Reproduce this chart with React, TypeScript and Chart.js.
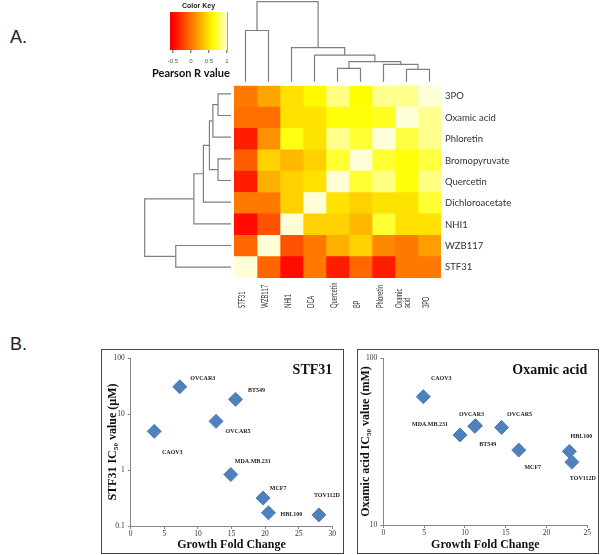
import React, { useEffect, useRef } from 'react';
import { Chart, registerables } from 'chart.js';

Chart.register(...registerables);

// ---------------- Heatmap data (Pearson R) ----------------
const rowLabels = ['3PO', 'Oxamic acid', 'Phloretin', 'Bromopyruvate', 'Quercetin', 'Dichloroacetate', 'NHI1', 'WZB117', 'STF31'];
const colLabels: (string | string[])[] = ['STF31', 'WZB117', 'NHI1', 'DCA', 'Quercetin', 'BP', 'Phloretin', ['Oxamic', 'acid'], '3PO'];

const corr3PO = [0.03, 0.23, 0.49, 0.6, 0.85, 0.62, 0.87, 0.87, 1];
const corrOxamic = [-0.01, -0.01, 0.5, 0.5, 0.64, 0.64, 0.68, 1, 0.87];
const corrPhloretin = [-0.37, 0.14, 0.66, 0.5, 0.87, 0.72, 1, 0.74, 0.87];
const corrBromopyruvate = [-0.09, 0.42, 0.31, 0.42, 0.71, 1, 0.71, 0.64, 0.74];
const corrQuercetin = [-0.37, 0.27, 0.42, 0.5, 1, 0.71, 0.85, 0.64, 0.85];
const corrDichloroacetate = [0.03, 0.03, 0.42, 1, 0.5, 0.42, 0.5, 0.5, 0.71];
const corrNHI1 = [-0.45, -0.14, 1, 0.42, 0.42, 0.31, 0.71, 0.49, 0.49];
const corrWZB117 = [-0.05, 1, -0.14, 0.03, 0.27, 0.42, 0.1, 0.03, 0.19];
const corrSTF31 = [1, -0.05, -0.45, 0.03, -0.37, -0.05, -0.37, 0.03, 0.03];
const corrRows = [corr3PO, corrOxamic, corrPhloretin, corrBromopyruvate, corrQuercetin, corrDichloroacetate, corrNHI1, corrWZB117, corrSTF31];

// ---------------- Dendrograms (merge a, merge b, height) ----------------
const rowMergeA = [0, 9, 3, 10, 12, 13, 7, 14];
const rowMergeB = [1, 2, 4, 11, 5, 6, 8, 15];
const rowMergeH = [0.15, 0.21, 0.15, 0.25, 0.32, 0.43, 0.64, 1.0];

const colMergeA = [0, 7, 4, 6, 11, 3, 2, 9];
const colMergeB = [1, 8, 5, 10, 12, 13, 14, 15];
const colMergeH = [0.64, 0.155, 0.167, 0.217, 0.25, 0.333, 0.425, 1.0];

// ---------------- Colour key ----------------
const keyMin = -0.58;
const keyMax = 1;
const keyTicks = [-0.5, 0, 0.5, 1];

// ---------------- Scatter: STF31 ----------------
const stfCells = ['OVCAR3', 'BT549', 'OVCAR5', 'CAOV3', 'MDA.MB.231', 'MCF7', 'HBL100', 'TOV112D'];
const stfFold = [7.3, 15.6, 12.7, 3.5, 14.9, 19.7, 20.5, 28.0];
const stfIC50 = [30.6, 18.3, 7.4, 4.9, 0.83, 0.315, 0.172, 0.158];
const stfTicksY = [0.1, 1, 10, 100];

// ---------------- Scatter: Oxamic acid ----------------
const oxaCells = ['CAOV3', 'MDA.MB.231', 'OVCAR3', 'OVCAR5', 'BT549', 'MCF7', 'HBL100', 'TOV112D'];
const oxaFold = [4.9, 9.4, 11.3, 14.5, 11.2, 16.6, 22.8, 23.1];
const oxaIC50 = [58.7, 34.6, 39.3, 38.4, 39.0, 28.1, 27.6, 23.8];
const oxaTicksY = [10, 100];

// label placement offsets (px, layout only)
const stfLabelOffsets = [[23, -8], [21, -9], [22, 10], [18, 21], [22, -13], [15, -10], [23, 2], [8, -19]];
const oxaLabelOffsets = [[18, -18], [-30, -11], [-4, -11], [18, -13], [13, 18], [14, 17], [12, -15], [11, 16]];

// ---------------- helpers ----------------
function heat(v: number): string {
  const t = Math.max(0, Math.min(1, (v + 0.5) / 1.5));
  if (t <= 0.75) {
    const g = Math.round((255 * t) / 0.75);
    return `rgb(255,${g},0)`;
  }
  const b = Math.round((215 * (t - 0.75)) / 0.25);
  return `rgb(255,255,${b})`;
}

function dendroSegments(a: number[], b: number[], h: number[], n: number) {
  const pos: number[] = [];
  const ht: number[] = [];
  for (let i = 0; i < n; i++) {
    pos.push(i + 0.5);
    ht.push(0);
  }
  const segs: number[][][] = [];
  a.forEach((ai, k) => {
    const bi = b[k];
    segs.push([
      [pos[ai], ht[ai]],
      [pos[ai], h[k]],
      [pos[bi], h[k]],
      [pos[bi], ht[bi]],
    ]);
    pos.push((pos[ai] + pos[bi]) / 2);
    ht.push(h[k]);
  });
  return segs;
}

type Rect = { left: number; top: number; width: number; height: number };

function ChartCanvas({ rect, build }: { rect: Rect; build: () => any }) {
  const ref = useRef<HTMLCanvasElement | null>(null);
  useEffect(() => {
    if (!ref.current) return;
    const chart = new Chart(ref.current, build());
    return () => chart.destroy();
  }, []);
  return (
    <canvas
      ref={ref}
      width={rect.width}
      height={rect.height}
      style={{ position: 'absolute', left: rect.left, top: rect.top, width: rect.width, height: rect.height, display: 'block' }}
    />
  );
}

const baseOpts = {
  animation: false,
  responsive: false,
  events: [] as string[],
};

// ---------------- chart builders ----------------
function heatmapConfig() {
  const colLabelPlugin = {
    id: 'colLabels',
    afterDraw(chart: any) {
      const { ctx, chartArea } = chart;
      const xs = chart.scales.x;
      ctx.save();
      ctx.font = '8.5px Lato';
      ctx.fillStyle = '#333';
      ctx.textAlign = 'left';
      ctx.textBaseline = 'middle';
      colLabels.forEach((lab, j) => {
        const lines = Array.isArray(lab) ? lab : [lab];
        const x = xs.getPixelForValue(j + 0.5) - 3;
        lines.forEach((ln, k) => {
          ctx.save();
          ctx.translate(x + (k - (lines.length - 1) / 2) * 8, chartArea.bottom + 30);
          ctx.rotate(-Math.PI / 2);
          ctx.scale(0.68, 1);
          ctx.fillText(ln, 0, 0);
          ctx.restore();
        });
      });
      ctx.restore();
    },
  };
  return {
    type: 'bar',
    data: {
      labels: rowLabels,
      datasets: colLabels.map((c, j) => ({
        label: Array.isArray(c) ? c.join(' ') : c,
        data: rowLabels.map(() => 1),
        backgroundColor: corrRows.map((r) => heat(r[j])),
        borderWidth: 0,
        barPercentage: 1,
        categoryPercentage: 1,
      })),
    },
    options: {
      ...baseOpts,
      indexAxis: 'y',
      layout: { padding: { left: 10, top: 7, bottom: 38, right: 0 } },
      plugins: { legend: { display: false }, tooltip: { enabled: false } },
      scales: {
        x: { type: 'linear', stacked: true, min: 0, max: 9, display: false },
        y: {
          type: 'category',
          stacked: true,
          position: 'right',
          grid: { display: false, drawTicks: false },
          border: { display: false },
          ticks: { padding: 4, font: { family: 'Lato', size: 9.5 }, color: '#333' },
          afterFit: (s: any) => {
            s.width = 83;
          },
        },
      },
    },
    plugins: [colLabelPlugin],
  };
}

function dendroConfig(segs: number[][][], vertical: boolean, padding: any, xOpts: any, yOpts: any) {
  return {
    type: 'scatter',
    data: {
      datasets: segs.map((seg) => ({
        data: seg.map(([p, h]) => (vertical ? { x: p, y: h } : { x: h, y: p })),
        showLine: true,
        pointRadius: 0,
        borderColor: '#7f7f7f',
        borderWidth: 1.2,
        clip: false,
      })),
    },
    options: {
      ...baseOpts,
      layout: { padding },
      plugins: { legend: { display: false }, tooltip: { enabled: false } },
      scales: {
        x: { type: 'linear', display: false, ...xOpts },
        y: { type: 'linear', display: false, ...yOpts },
      },
    },
  };
}

function keyConfig() {
  const keyTitlePlugin = {
    id: 'keyAxisTitle',
    afterDraw(chart: any) {
      const { ctx } = chart;
      const xs = chart.scales.x;
      ctx.save();
      ctx.font = 'bold 11px Lato';
      ctx.fillStyle = '#111';
      ctx.textAlign = 'center';
      ctx.textBaseline = 'middle';
      ctx.fillText('Pearson R value', xs.getPixelForValue(0), chart.height - 9);
      ctx.restore();
    },
  };
  return {
    type: 'bar',
    data: {
      labels: ['key'],
      datasets: [
        {
          data: [[keyMin, keyMax]],
          backgroundColor: (c: any) => {
            const ch = c.chart;
            if (!ch.chartArea) return 'red';
            const xs = ch.scales.x;
            const g = ch.ctx.createLinearGradient(xs.getPixelForValue(keyMin), 0, xs.getPixelForValue(keyMax), 0);
            const n = 40;
            for (let i = 0; i <= n; i++) {
              const v = keyMin + ((keyMax - keyMin) * i) / n;
              g.addColorStop(i / n, heat(v));
            }
            return g;
          },
          borderWidth: 0,
          barPercentage: 1,
          categoryPercentage: 1,
        },
      ],
    },
    options: {
      ...baseOpts,
      indexAxis: 'y',
      layout: { padding: { left: 30, right: 30, top: 0, bottom: 0 } },
      plugins: {
        legend: { display: false },
        tooltip: { enabled: false },
        title: {
          display: true,
          text: 'Color Key',
          font: { family: 'Liberation Sans', size: 7, weight: 'bold' },
          color: '#222',
          padding: { top: 1.8, bottom: 1.8 },
        },
      },
      scales: {
        x: {
          type: 'linear',
          min: keyMin,
          max: keyMax,
          afterBuildTicks: (s: any) => {
            s.ticks = keyTicks.map((v) => ({ value: v }));
          },
          ticks: { callback: (v: any) => String(v), font: { family: 'Liberation Sans', size: 6 }, color: '#555', padding: 4.5, maxRotation: 0 },
          grid: {
            drawOnChartArea: true,
            color: (c: any) => (c.tick && c.tick.value === 1 ? '#444' : 'rgba(0,0,0,0)'),
            lineWidth: 1.5,
            tickColor: '#888',
            tickLength: 3,
          },
          border: { display: false },
          afterFit: (s: any) => {
            s.height = 32;
          },
        },
        y: { display: false },
      },
    },
    plugins: [keyTitlePlugin],
  };
}

function scatterConfig(p: {
  cells: string[];
  fold: number[];
  ic50: number[];
  offsets: number[][];
  title: string;
  yTitle: string;
  xMax: number;
  yMin: number;
  yMax: number;
  yTicks: number[];
  padTop: number;
  padRight: number;
  yWidth: number;
  xHeight: number;
  yTitlePad: number;
}) {
  const serif = 'Liberation Serif';
  const labelsPlugin = {
    id: 'pointLabelsAndTitle',
    afterDatasetsDraw(chart: any) {
      const { ctx, chartArea } = chart;
      const meta = chart.getDatasetMeta(0);
      ctx.save();
      ctx.font = `bold 6px ${serif}`;
      ctx.fillStyle = '#222';
      ctx.textAlign = 'center';
      ctx.textBaseline = 'middle';
      meta.data.forEach((el: any, i: number) => {
        const o = p.offsets[i];
        ctx.fillText(p.cells[i], el.x + o[0], el.y + o[1]);
      });
      ctx.font = `bold 14px ${serif}`;
      ctx.fillStyle = '#111';
      ctx.textAlign = 'right';
      ctx.fillText(p.title, chartArea.right, chartArea.top + 12);
      ctx.restore();
    },
  };
  const gridOpts = { drawOnChartArea: false, drawTicks: true, tickLength: 3, color: '#868686' };
  return {
    type: 'scatter',
    data: {
      datasets: [
        {
          data: p.fold.map((x, i) => ({ x, y: p.ic50[i] })),
          pointStyle: 'rectRot',
          pointRadius: 7,
          pointHoverRadius: 7,
          backgroundColor: '#4F81BD',
          borderColor: '#4A7EBB',
          borderWidth: 1,
        },
      ],
    },
    options: {
      ...baseOpts,
      layout: { padding: { top: p.padTop, right: p.padRight, left: 0, bottom: 0 } },
      plugins: { legend: { display: false }, tooltip: { enabled: false } },
      scales: {
        x: {
          type: 'linear',
          min: 0,
          max: p.xMax,
          ticks: { stepSize: 5, font: { family: serif, size: 7.5 }, color: '#333', padding: 1, maxRotation: 0 },
          grid: gridOpts,
          border: { color: '#868686' },
          title: {
            display: true,
            text: 'Growth Fold Change',
            font: { family: serif, size: 12, weight: 'bold' },
            color: '#111',
            padding: { top: 0, bottom: 0.8 },
          },
          afterFit: (s: any) => {
            s.height = p.xHeight;
          },
        },
        y: {
          type: 'logarithmic',
          min: p.yMin,
          max: p.yMax,
          afterBuildTicks: (s: any) => {
            s.ticks = p.yTicks.map((v) => ({ value: v }));
          },
          ticks: { callback: (v: any) => String(v), font: { family: serif, size: 7.5 }, color: '#333', padding: 3 },
          grid: gridOpts,
          border: { color: '#868686' },
          title: {
            display: true,
            text: p.yTitle,
            font: { family: serif, size: 12, weight: 'bold' },
            color: '#111',
            padding: { top: p.yTitlePad, bottom: 0 },
          },
          afterFit: (s: any) => {
            s.width = p.yWidth;
          },
        },
      },
    },
    plugins: [labelsPlugin],
  };
}

export default function App() {
  const rowSegs = dendroSegments(rowMergeA, rowMergeB, rowMergeH, rowLabels.length);
  const colSegs = dendroSegments(colMergeA, colMergeB, colMergeH, colLabels.length);
  const panelStyle = (left: number, width: number): React.CSSProperties => ({
    position: 'absolute',
    left,
    top: 349,
    width,
    height: 205,
    boxSizing: 'border-box',
    border: '1px solid #444',
  });
  return (
    <div style={{ position: 'absolute', left: 0, top: 0, width: 600, height: 555, background: '#fff', overflow: 'hidden' }}>
      <div style={{ position: 'absolute', left: 10, top: 28, fontFamily: 'Liberation Sans', fontSize: 18, lineHeight: '18px', color: '#222' }}>A.</div>
      <div style={{ position: 'absolute', left: 10, top: 335, fontFamily: 'Liberation Sans', fontSize: 18, lineHeight: '18px', color: '#222' }}>B.</div>

      <ChartCanvas rect={{ left: 140, top: 0, width: 117, height: 82 }} build={keyConfig} />
      <ChartCanvas
        rect={{ left: 232, top: 0, width: 211, height: 84 }}
        build={() => dendroConfig(colSegs, true, { left: 2, right: 2, top: 1.7, bottom: 2.3 }, { min: 0, max: 9 }, { min: 0, max: 1 })}
      />
      <ChartCanvas
        rect={{ left: 140, top: 81, width: 93, height: 199 }}
        build={() => dendroConfig(rowSegs, false, { left: 4.7, right: 2, top: 2, bottom: 2 }, { min: 0, max: 1, reverse: true }, { min: 0, max: 9, reverse: true })}
      />
      <ChartCanvas rect={{ left: 224, top: 76, width: 300, height: 240 }} build={heatmapConfig} />

      <div style={panelStyle(101, 243)} />
      <div style={panelStyle(357, 242)} />
      <ChartCanvas
        rect={{ left: 102, top: 350, width: 241, height: 203 }}
        build={() =>
          scatterConfig({
            cells: stfCells,
            fold: stfFold,
            ic50: stfIC50,
            offsets: stfLabelOffsets,
            title: 'STF31',
            yTitle: 'STF31 IC\u2085\u2080 value (\u00B5M)',
            xMax: 30,
            yMin: 0.1,
            yMax: 100,
            yTicks: stfTicksY,
            padTop: 4.7,
            padRight: 10.7,
            yWidth: 28.7,
            xHeight: 27,
            yTitlePad: 4.1,
          })
        }
      />
      <ChartCanvas
        rect={{ left: 358, top: 350, width: 240, height: 203 }}
        build={() =>
          scatterConfig({
            cells: oxaCells,
            fold: oxaFold,
            ic50: oxaIC50,
            offsets: oxaLabelOffsets,
            title: 'Oxamic acid',
            yTitle: 'Oxamic acid IC\u2085\u2080 value (mM)',
            xMax: 25,
            yMin: 10,
            yMax: 100,
            yTicks: oxaTicksY,
            padTop: 5,
            padRight: 10.7,
            yWidth: 25.3,
            xHeight: 28,
            yTitlePad: 0.3,
          })
        }
      />
    </div>
  );
}
